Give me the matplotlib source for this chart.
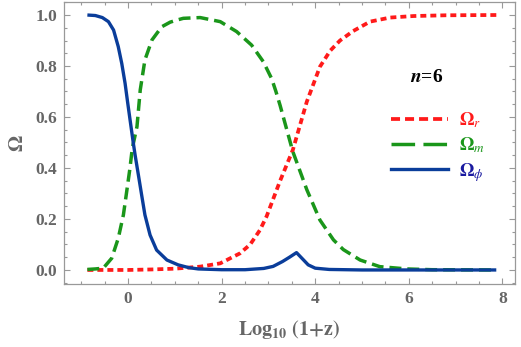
import matplotlib
matplotlib.use("Agg")
import matplotlib.pyplot as plt
from matplotlib.lines import Line2D
from matplotlib.ticker import MultipleLocator

# values
x_phi = [-0.87, -0.7, -0.55, -0.42, -0.31, -0.21, -0.135, -0.064, -0.007, 0.043, 0.11, 0.15,
         0.22, 0.29, 0.36, 0.47, 0.61, 0.83, 1.07, 1.3, 1.5, 2.0, 2.5, 2.9, 3.1, 3.3,
         3.45, 3.6, 3.72, 3.85, 4.0, 4.3, 5.0, 6.0, 7.0, 7.87]
omega_phi = [1.0, 0.998, 0.99, 0.974, 0.941, 0.876, 0.81, 0.732, 0.654, 0.588, 0.50, 0.451,
             0.373, 0.294, 0.216, 0.137, 0.078, 0.039, 0.02, 0.009, 0.004, 0.001, 0.001, 0.006, 0.014, 0.033,
             0.05, 0.068, 0.045, 0.02, 0.007, 0.002, 0.0, 0.0, 0.0, 0.0]

x_m = [-0.87, -0.7, -0.53, -0.35, -0.21, -0.10, -0.03, 0.04, 0.09, 0.19, 0.26, 0.36, 0.51,
       0.72, 0.90, 1.04, 1.18, 1.54, 1.97, 2.32, 2.64, 2.89, 3.07, 3.16, 3.25, 3.52, 3.82, 4.10,
       4.39, 4.6, 4.96, 5.38, 5.96, 6.5, 7.87]
omega_m = [0.002, 0.004, 0.007, 0.046, 0.124, 0.216, 0.307, 0.399, 0.477, 0.562, 0.706, 0.824, 0.902,
           0.954, 0.972, 0.98, 0.987, 0.99, 0.974, 0.935, 0.882, 0.817, 0.75, 0.70, 0.645, 0.465, 0.315, 0.196,
           0.118, 0.08, 0.039, 0.013, 0.004, 0.001, 0.0]

x_r = [-0.87, 0.0, 0.5, 1.0, 1.54, 1.97, 2.39, 2.61, 2.82, 2.96, 3.25, 3.52, 3.82, 4.10, 4.32,
       4.53, 4.81, 5.17, 5.60, 6.10, 6.8, 7.87]
omega_r = [0.0, 0.0, 0.002, 0.005, 0.013, 0.026, 0.065, 0.1, 0.157, 0.21, 0.35, 0.47, 0.66, 0.797, 0.86,
           0.9, 0.937, 0.974, 0.99, 0.996, 0.999, 1.0]

x_ticks = [0, 2, 4, 6, 8]
y_ticks = [0.0, 0.2, 0.4, 0.6, 0.8, 1.0]

RED = "#ff1a1a"
GREEN = "#1a961a"
BLUE = "#0a3d9a"
GRAY = "#666666"

plt.rcParams["mathtext.fontset"] = "stix"
plt.rcParams["lines.scale_dashes"] = False

fig = plt.figure(figsize=(5.21, 3.47), dpi=100)
ax = fig.add_axes([0.1228, 0.1816, 0.8657, 0.8126])

ax.plot(x_r, omega_r, color=RED, lw=2.7, dashes=(4.3, 2.9))
ax.plot(x_m, omega_m, color=GREEN, lw=2.5, dashes=(8.6, 4.3))
ax.plot(x_phi, omega_phi, color=BLUE, lw=2.4, solid_capstyle="butt", solid_joinstyle="round")

ax.set_xlim(-1.37, 8.27)
ax.set_ylim(-0.055, 1.051)
ax.set_xticks(x_ticks)
ax.set_yticks(y_ticks)
ax.set_yticklabels([f"{v:.1f}" for v in y_ticks])
ax.xaxis.set_minor_locator(MultipleLocator(0.5))
ax.yaxis.set_minor_locator(MultipleLocator(0.05))
ax.tick_params(which="both", direction="in", top=True, right=True, color="#999999", width=0.8)
ax.tick_params(which="major", length=4.3, pad=5)
ax.tick_params(which="minor", length=2.2)
for lab in ax.get_xticklabels() + ax.get_yticklabels():
    lab.set_fontfamily("Liberation Serif")
    lab.set_fontweight("bold")
    lab.set_fontsize(12.5)
    lab.set_color(GRAY)
for sp in ax.spines.values():
    sp.set_color("#999999")
    sp.set_linewidth(0.9)

ax.set_xlabel(r"$\mathbf{Log_{10}\ (1{+}z)}$", fontsize=14.5, color=GRAY, labelpad=8)
ax.set_ylabel(r"$\mathbf{\Omega}$", fontsize=15, color=GRAY, labelpad=6)

ax.text(0.805, 0.734, r"$\mathbfit{n}$=6", transform=ax.transAxes, family="Liberation Serif",
        fontweight="bold", ha="center", va="center", fontsize=14, color="black")

handles = [
    Line2D([], [], color=RED, lw=2.7, dashes=(6.5, 3.6)),
    Line2D([], [], color=GREEN, lw=2.5, dashes=(17, 6)),
    Line2D([], [], color=BLUE, lw=2.4),
]
labels = [r"$\mathbf{\Omega}_{\mathit{r}}$", r"$\mathbf{\Omega}_{\mathit{m}}$", r"$\mathbf{\Omega}_{\phi}$"]
leg = ax.legend(handles, labels, loc="upper left", bbox_to_anchor=(0.705, 0.65), frameon=False,
                fontsize=13.5, handlelength=3.0, handletextpad=0.6, labelspacing=0.3, borderpad=0)
for txt, c in zip(leg.get_texts(), [RED, GREEN, "#1a1aa0"]):
    txt.set_color(c)

fig.savefig("out.png", dpi=100)
